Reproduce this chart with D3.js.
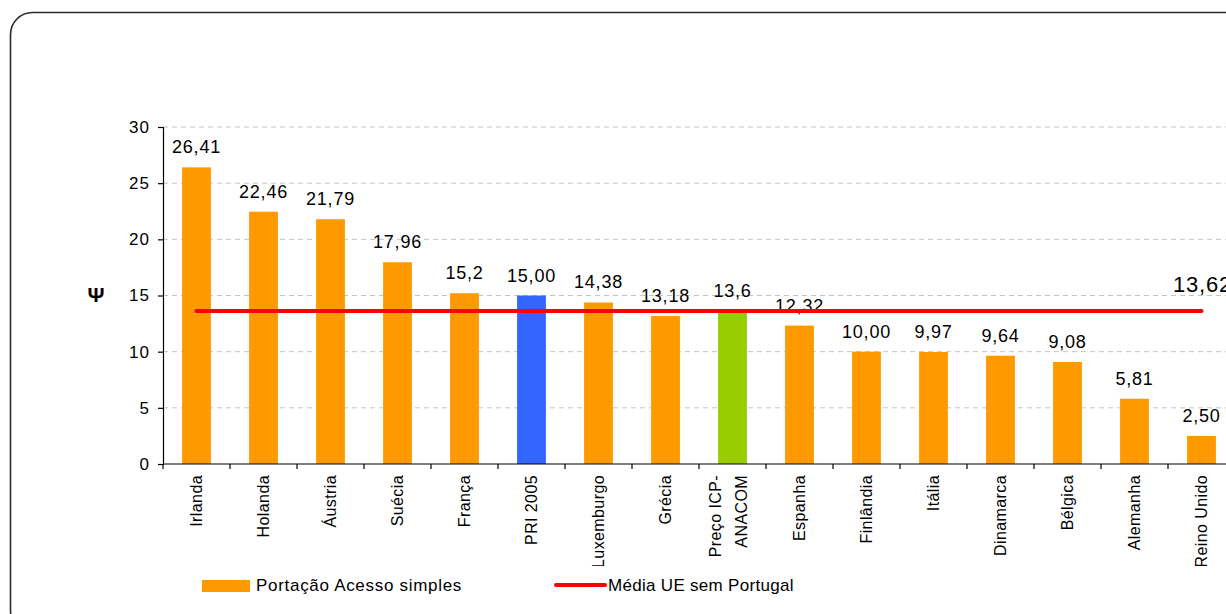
<!DOCTYPE html>
<html>
<head>
<meta charset="utf-8">
<script src="https://cdn.jsdelivr.net/npm/d3@7"></script>
<style>
  html, body { margin: 0; padding: 0; background: #fff; }
  svg { display: block; font-family: Arial, "Liberation Sans", sans-serif; }
</style>
</head>
<body>
<svg id="chart" width="1226" height="614"></svg>
<script>
// Preço de portação (acesso simples) por país, em euros
const categories = [
  "Irlanda", "Holanda", "Áustria", "Suécia", "França", "PRI 2005", "Luxemburgo",
  "Grécia", "Preço ICP-ANACOM", "Espanha", "Finlândia", "Itália", "Dinamarca",
  "Bélgica", "Alemanha", "Reino Unido"
];
const valueLabels = [
  "26,41", "22,46", "21,79", "17,96", "15,2", "15,00", "14,38",
  "13,18", "13,6", "12,32", "10,00", "9,97", "9,64",
  "9,08", "5,81", "2,50"
];
const values = valueLabels.map(s => +s.replace(",", "."));
const barKinds = [
  "pais", "pais", "pais", "pais", "pais", "pri", "pais",
  "pais", "icp", "pais", "pais", "pais", "pais",
  "pais", "pais", "pais"
];
const averageLabel = "13,62";
const average = +averageLabel.replace(",", ".");
const yTicks = [0, 5, 10, 15, 20, 25, 30];
const seriesNames = ["Portação Acesso simples", "Média UE sem Portugal"];

const colors = { pais: "#FF9900", pri: "#3366FF", icp: "#99CC00", media: "#FF0000" };

const svg = d3.select("#chart");
const W = 1226, H = 614;

// frame with rounded corners
svg.append("rect")
  .attr("x", 10.5).attr("y", 12.5)
  .attr("width", 1240).attr("height", 620)
  .attr("rx", 22).attr("ry", 22)
  .attr("fill", "none").attr("stroke", "#2a2a2a").attr("stroke-width", 1.6);

const left = 163, bandW = 67;
const x = d3.scaleBand().domain(categories).range([left, left + bandW * categories.length]).padding(0);
const y = d3.scaleLinear().domain([0, 30]).range([464, 127]);
const barW = x.bandwidth() * 0.43;

// horizontal dashed gridlines
svg.append("g").selectAll("line")
  .data(yTicks.filter(t => t > 0))
  .join("line")
  .attr("x1", left).attr("x2", W)
  .attr("y1", d => y(d)).attr("y2", d => y(d))
  .attr("stroke", "#c4c4c4").attr("stroke-width", 1)
  .attr("stroke-dasharray", "5,4");

// bars
svg.append("g").selectAll("rect")
  .data(categories)
  .join("rect")
  .attr("x", d => x(d) + (x.bandwidth() - barW) / 2)
  .attr("width", barW)
  .attr("y", (d, i) => y(values[i]))
  .attr("height", (d, i) => y(0) - y(values[i]))
  .attr("fill", (d, i) => colors[barKinds[i]]);

// y axis
const yAxis = svg.append("g")
  .attr("transform", `translate(${left},0)`)
  .call(d3.axisLeft(y).tickValues(yTicks).tickSize(5).tickPadding(8).tickFormat(d3.format("d")));
yAxis.select(".domain").attr("stroke", "#000").attr("stroke-width", 1.2);
yAxis.selectAll(".tick line").attr("stroke", "#000").attr("stroke-width", 1.2);
yAxis.selectAll(".tick text")
  .attr("font-size", 17).attr("letter-spacing", 1).attr("fill", "#000")
  .attr("font-family", "Arial, 'Liberation Sans', sans-serif");

// y axis title
svg.append("text")
  .attr("x", 96).attr("y", 302)
  .attr("text-anchor", "middle")
  .attr("font-size", 21).attr("font-weight", "bold")
  .text("Ψ");

// x axis line and boundary ticks
svg.append("line")
  .attr("x1", left).attr("x2", W)
  .attr("y1", y(0)).attr("y2", y(0))
  .attr("stroke", "#000").attr("stroke-width", 1.2);
const bounds = categories.map(c => x(c)).concat([x.range()[1]]);
svg.append("g").selectAll("line")
  .data(bounds)
  .join("line")
  .attr("x1", d => d).attr("x2", d => d)
  .attr("y1", y(0)).attr("y2", y(0) + 5)
  .attr("stroke", "#000").attr("stroke-width", 1.2);

// category labels, rotated; the label strip is clipped at its bottom
svg.append("defs").append("clipPath").attr("id", "xlabClip")
  .append("rect").attr("x", 0).attr("y", 466).attr("width", W).attr("height", 100);
const xlab = svg.append("g").attr("clip-path", "url(#xlabClip)");
categories.forEach((c, i) => {
  const cx = x(c) + x.bandwidth() / 2;
  const lines = c === "Preço ICP-ANACOM" ? ["Preço ICP-", "ANACOM"] : [c];
  const offsets = lines.length === 2 ? [-17, 9] : [0];
  lines.forEach((ln, k) => {
    xlab.append("text")
      .attr("transform", `translate(${cx + offsets[k]},475) rotate(-90)`)
      .attr("text-anchor", "end")
      .attr("dy", "0.36em")
      .attr("font-size", 16).attr("letter-spacing", 0.4)
      .text(ln);
  });
});

// value labels above bars
svg.append("g").selectAll("text")
  .data(categories)
  .join("text")
  .attr("x", d => x(d) + x.bandwidth() / 2)
  .attr("y", (d, i) => y(values[i]) - 14)
  .attr("text-anchor", "middle")
  .attr("font-size", 18).attr("letter-spacing", 0.8)
  .text((d, i) => valueLabels[i]);

// EU average line (without Portugal)
const first = categories[0], last = categories[categories.length - 1];
svg.append("line")
  .attr("x1", x(first) + x.bandwidth() / 2)
  .attr("x2", x(last) + x.bandwidth() / 2)
  .attr("y1", y(average)).attr("y2", y(average))
  .attr("stroke", colors.media).attr("stroke-width", 4)
  .attr("stroke-linecap", "round");
svg.append("text")
  .attr("x", 1173).attr("y", y(average) - 19)
  .attr("font-size", 22).attr("letter-spacing", 0.8)
  .text(averageLabel);

// legend
const lg = svg.append("g");
lg.append("rect")
  .attr("x", 202).attr("y", 580).attr("width", 48).attr("height", 12)
  .attr("fill", colors.pais);
lg.append("text")
  .attr("x", 256).attr("y", 591)
  .attr("font-size", 17).attr("letter-spacing", 0.7)
  .text(seriesNames[0]);
lg.append("line")
  .attr("x1", 556).attr("x2", 605).attr("y1", 585).attr("y2", 585)
  .attr("stroke", colors.media).attr("stroke-width", 4)
  .attr("stroke-linecap", "round");
lg.append("text")
  .attr("x", 608).attr("y", 591)
  .attr("font-size", 17).attr("letter-spacing", 0.3)
  .text(seriesNames[1]);
</script>
</body>
</html>
